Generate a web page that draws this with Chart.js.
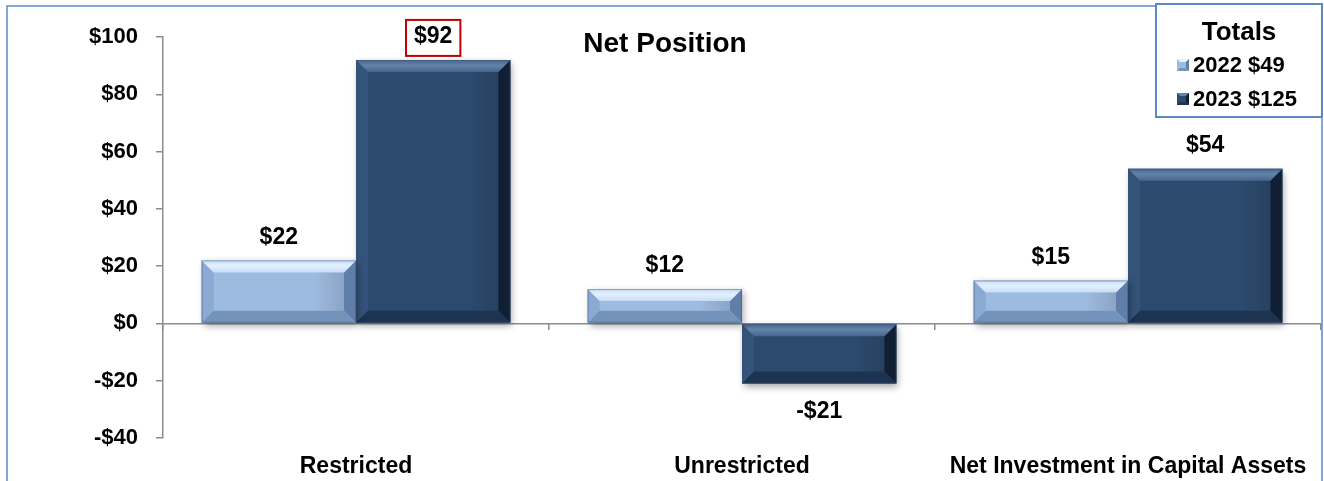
<!DOCTYPE html>
<html>
<head>
<meta charset="utf-8">
<script src="https://cdn.jsdelivr.net/npm/chart.js@4/dist/chart.umd.min.js"></script>
<style>
  html, body { margin: 0; padding: 0; background: #ffffff; }
  #wrap { width: 1324px; height: 481px; position: relative; }
</style>
</head>
<body>
<div id="wrap"><canvas id="c" width="1324" height="481"></canvas></div>
<script>
// ---- data ----
const categories = ['Restricted', 'Unrestricted', 'Net Investment in Capital Assets'];
const seriesNames = ['2022', '2023'];
const values2022 = [22, 12, 15];
const values2023 = [92, -21, 54];
const seriesTotals = [49, 125];
const yTickValues = [-40, -20, 0, 20, 40, 60, 80, 100];
const chartTitle = 'Net Position';
const legendTitle = 'Totals';

// ---- styles ----
const FONT = "'Liberation Sans', Arial, Helvetica, sans-serif";
const AXIS = '#8c8c8c';
const BORDER_BLUE = '#5b8ac6';
const palette = [
  { face: '#9dbbe0', top: '#c6dcf4', hi: '#e2f1ff', left: '#8aaad3', right: '#5f7fa8', bottom: '#7393bb' },
  { face: '#2c4a6e', top: '#46668d', hi: '#6383a9', left: '#33537a', right: '#101f33', bottom: '#1c3351' }
];
const fmt = v => (v < 0 ? '-$' : '$') + Math.abs(v);

const bgPlugin = {
  id: 'bg',
  beforeDraw(chart) {
    const c = chart.ctx;
    c.save();
    c.fillStyle = '#ffffff';
    c.fillRect(0, 0, chart.width, chart.height);
    c.strokeStyle = BORDER_BLUE;
    c.lineWidth = 1.5;
    c.strokeRect(7, 6, 1315, 490);
    c.restore();
  }
};

function poly(c, pts, fill) {
  c.beginPath();
  c.moveTo(pts[0][0], pts[0][1]);
  for (let i = 1; i < pts.length; i++) c.lineTo(pts[i][0], pts[i][1]);
  c.closePath();
  c.fillStyle = fill;
  c.fill();
}

const bevelPlugin = {
  id: 'bevel',
  beforeDatasetDraw(chart) {
    const c = chart.ctx;
    c.save();
    c.shadowColor = 'rgba(0,0,0,0.35)';
    c.shadowBlur = 7;
    c.shadowOffsetX = 2;
    c.shadowOffsetY = 3;
  },
  afterDatasetDraw(chart, args) {
    const c = chart.ctx;
    c.restore();
    const p = palette[args.index];
    const meta = args.meta;
    c.save();
    meta.data.forEach(el => {
      const pr = el.getProps(['x', 'y', 'base', 'width'], true);
      const L = pr.x - pr.width / 2, R = pr.x + pr.width / 2;
      const T = Math.min(pr.y, pr.base), B = Math.max(pr.y, pr.base);
      const h = B - T;
      const b = Math.min(12, h * 0.36);
      poly(c, [[L, T], [L + b, T + b], [L + b, B - b], [L, B]], p.left);
      poly(c, [[R, T], [R - b, T + b], [R - b, B - b], [R, B]], p.right);
      poly(c, [[L, B], [L + b, B - b], [R - b, B - b], [R, B]], p.bottom);
      const g = c.createLinearGradient(0, T, 0, T + b);
      g.addColorStop(0, p.top);
      g.addColorStop(0.45, p.hi);
      g.addColorStop(1, p.top);
      poly(c, [[L, T], [R, T], [R - b, T + b], [L + b, T + b]], g);
      const fg = c.createLinearGradient(R - b - 30, 0, R - b, 0);
      fg.addColorStop(0, 'rgba(0,0,0,0)');
      fg.addColorStop(1, 'rgba(0,0,0,0.12)');
      c.fillStyle = fg;
      c.fillRect(R - b - 30, T + b, 30, Math.max(0, h - 2 * b));
      c.strokeStyle = 'rgba(60,80,110,0.45)';
      c.lineWidth = 1;
      c.strokeRect(L + 0.5, T + 0.5, R - L - 1, h - 1);
    });
    c.restore();
  }
};

const labelPlugin = {
  id: 'valueLabels',
  afterDatasetsDraw(chart) {
    const c = chart.ctx;
    c.save();
    c.font = 'bold 23px ' + FONT;
    c.textAlign = 'center';
    c.textBaseline = 'middle';
    c.fillStyle = '#000';
    chart.data.datasets.forEach((ds, di) => {
      const meta = chart.getDatasetMeta(di);
      meta.data.forEach((el, i) => {
        const v = ds.data[i];
        const pr = el.getProps(['x', 'y'], true);
        const y = v >= 0 ? pr.y - 23 : pr.y + 28;
        const txt = fmt(v);
        c.fillText(txt, pr.x, y);
        if (ds.highlight && ds.highlight.includes(i)) {
          const w = c.measureText(txt).width;
          c.strokeStyle = '#c00000';
          c.lineWidth = 2;
          c.strokeRect(pr.x - w / 2 - 8, y - 17, w + 16, 36);
        }
      });
    });
    c.restore();
  }
};

const titleLegendPlugin = {
  id: 'titleLegend',
  afterDraw(chart) {
    const c = chart.ctx;
    c.save();
    c.fillStyle = '#000';
    c.font = 'bold 28px ' + FONT;
    c.textAlign = 'center';
    c.textBaseline = 'middle';
    c.fillText(chartTitle, 665, 44);
    c.fillStyle = '#fff';
    c.fillRect(1156, 4, 166, 113);
    c.strokeStyle = BORDER_BLUE;
    c.lineWidth = 2;
    c.strokeRect(1156, 4, 166, 113);
    c.fillStyle = '#000';
    c.font = 'bold 26px ' + FONT;
    c.fillText(legendTitle, 1239, 33);
    c.font = 'bold 22px ' + FONT;
    c.textAlign = 'left';
    const rows = [65, 99];
    seriesNames.forEach((n, i) => {
      const y = rows[i];
      const p = palette[i];
      const x0 = 1177, s = 12;
      c.fillStyle = p.face;
      c.fillRect(x0, y - s / 2, s, s);
      const b = 3;
      poly(c, [[x0, y - s/2], [x0 + s, y - s/2], [x0 + s - b, y - s/2 + b], [x0 + b, y - s/2 + b]], p.hi);
      poly(c, [[x0 + s, y - s/2], [x0 + s, y + s/2], [x0 + s - b, y + s/2 - b], [x0 + s - b, y - s/2 + b]], p.right);
      poly(c, [[x0, y + s/2], [x0 + s, y + s/2], [x0 + s - b, y + s/2 - b], [x0 + b, y + s/2 - b]], p.bottom);
      c.fillStyle = '#000';
      c.fillText(n + ' $' + seriesTotals[i], 1193, y + 1);
    });
    c.restore();
  }
};

new Chart(document.getElementById('c'), {
  type: 'bar',
  data: {
    labels: categories,
    datasets: [
      { label: seriesNames[0], data: values2022, backgroundColor: palette[0].face, borderWidth: 0 },
      { label: seriesNames[1], data: values2023, backgroundColor: palette[1].face, borderWidth: 0, highlight: [0] }
    ]
  },
  plugins: [bgPlugin, bevelPlugin, labelPlugin, titleLegendPlugin],
  options: {
    responsive: false,
    animation: false,
    devicePixelRatio: 1,
    layout: { padding: { left: 0, right: 3, top: 37, bottom: 0 } },
    datasets: { bar: { categoryPercentage: 0.8, barPercentage: 1.0 } },
    plugins: { legend: { display: false }, title: { display: false }, tooltip: { enabled: false } },
    scales: {
      x: {
        type: 'category',
        position: 'bottom',
        grid: { display: false, drawTicks: false },
        border: { display: false },
        ticks: { color: '#000', font: { family: FONT, size: 23, weight: 'bold' }, padding: 15, maxRotation: 0, autoSkip: false },
        afterFit(s) { s.height = 43; }
      },
      x2: {
        type: 'category',
        position: { y: 0 },
        grid: { offset: true, drawOnChartArea: false, drawTicks: true, tickLength: 7, color: AXIS, lineWidth: 1.5 },
        border: { display: false },
        ticks: { display: false }
      },
      y: {
        min: -40,
        max: 100,
        afterBuildTicks(s) { s.ticks = yTickValues.map(v => ({ value: v })); },
        grid: {
          drawOnChartArea: true,
          drawTicks: true,
          tickLength: 7,
          color: ctx => (ctx.tick && ctx.tick.value === 0 ? AXIS : 'rgba(0,0,0,0)'),
          tickColor: AXIS,
          lineWidth: 1.5
        },
        border: { display: true, color: AXIS, width: 1.5 },
        ticks: {
          color: '#000',
          font: { family: FONT, size: 22, weight: 'bold' },
          padding: 18,
          callback: v => fmt(v)
        },
        afterFit(s) { s.width = 163; }
      }
    }
  }
});
</script>
</body>
</html>
